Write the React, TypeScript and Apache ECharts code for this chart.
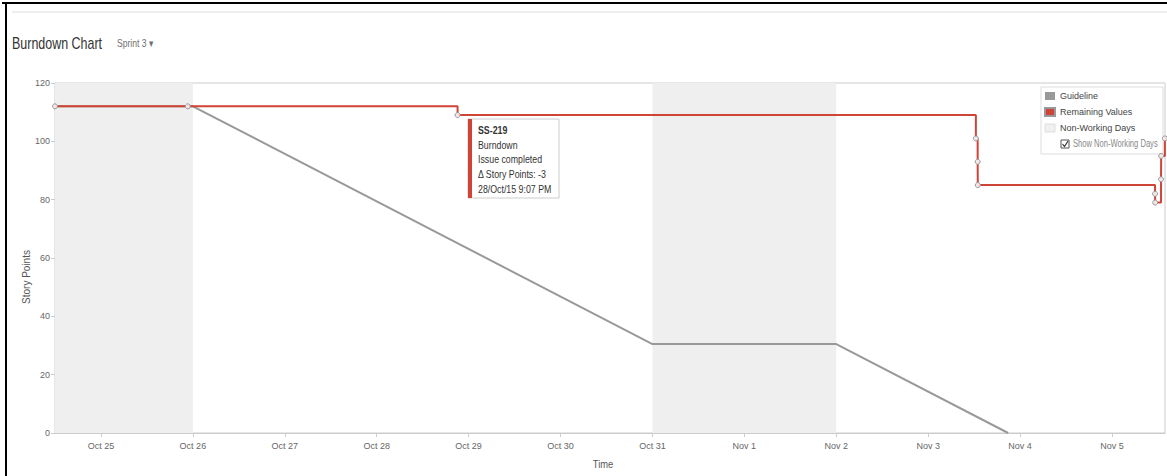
import React, { useEffect, useRef } from "react";
import * as echarts from "echarts";

const FONT = "'Liberation Sans', Arial, Helvetica, sans-serif";
const SQUEEZE = 0.78;

// ---- data ----
const axisStart = "2015-10-24 12:00";
const axisEnd = "2015-11-05 13:50";
const tickDates = [
  "2015-10-25", "2015-10-26", "2015-10-27", "2015-10-28", "2015-10-29", "2015-10-30",
  "2015-10-31", "2015-11-01", "2015-11-02", "2015-11-03", "2015-11-04", "2015-11-05",
];
const tickLabels = [
  "Oct 25", "Oct 26", "Oct 27", "Oct 28", "Oct 29", "Oct 30",
  "Oct 31", "Nov 1", "Nov 2", "Nov 3", "Nov 4", "Nov 5",
];
const guidelineTimes = ["2015-10-24 12:00", "2015-10-26 00:00", "2015-10-31 00:00", "2015-11-02 00:00", "2015-11-03 20:53"];
const guidelineValues = [112, 112, 30.5, 30.5, 0];
const remainingTimes = [
  "2015-10-24 12:00", "2015-10-25 22:40", "2015-10-28 21:07", "2015-11-03 12:27", "2015-11-03 12:55",
  "2015-11-03 12:57", "2015-11-05 11:14", "2015-11-05 11:16", "2015-11-05 12:48", "2015-11-05 12:50",
  "2015-11-05 13:48",
];
const remainingValues = [112, 112, 109, 101, 93, 85, 82, 79, 87, 95, 101];
const nonWorkingStarts = ["2015-10-24 12:00", "2015-10-31 00:00"];
const nonWorkingEnds = ["2015-10-26 00:00", "2015-11-02 00:00"];
const yTicks = { min: 0, max: 120, interval: 20 };
const tooltipLines = ["SS-219", "Burndown", "Issue completed", "\u0394 Story Points: -3", "28/Oct/15 9:07 PM"];

function parse(s: string): number {
  const [d, t] = s.split(" ");
  const [y, m, dd] = d.split("-").map(Number);
  const [h, mi] = (t || "00:00").split(":").map(Number);
  return new Date(y, m - 1, dd, h, mi).getTime();
}

export default function App() {
  const ref = useRef<HTMLDivElement>(null);
  useEffect(() => {
    if (!ref.current) return;
    const chart = echarts.init(ref.current, undefined, { renderer: "svg" });
    const tickValues = tickDates.map(parse);
    const labelFor = (v: number) => {
      const i = tickValues.findIndex((t) => Math.abs(t - v) < 60000);
      return i >= 0 ? tickLabels[i] : "";
    };

    const tooltipTexts = tooltipLines.map((line, i) => ({
      type: "text",
      z: 11,
      x: 478,
      y: 130 + i * 14.7,
      scaleX: 0.8,
      style: {
        text: line,
        fontFamily: FONT,
        fontSize: 11,
        fontWeight: i === 0 ? "bold" : "normal",
        fill: "#333",
        verticalAlign: "middle",
      },
    }));

    chart.setOption({
      animation: false,
      textStyle: { fontFamily: FONT },
      grid: {
        left: 55,
        right: 2,
        top: 83,
        bottom: 43,
        show: true,
        borderColor: "#ccc",
        borderWidth: 1,
      },
      legend: {
        orient: "vertical",
        left: 1044,
        top: 90,
        icon: "rect",
        itemWidth: 10,
        itemHeight: 8,
        itemGap: 4,
        padding: 0,
        selectedMode: false,
        z: 6,
        textStyle: { fontSize: 9, color: "#444", fontFamily: FONT, lineHeight: 12 },
        data: [
          { name: "Guideline", itemStyle: { color: "#999" } },
          { name: "Remaining Values", itemStyle: { color: "#d04437" } },
          { name: "Non-Working Days", itemStyle: { color: "#f0f0f0", borderColor: "#ddd", borderWidth: 1 } },
        ],
      },
      xAxis: {
        type: "value",
        min: parse(axisStart),
        max: parse(axisEnd),
        axisLine: { lineStyle: { color: "#ccc" } },
        axisTick: { show: true, customValues: tickValues, length: 4, lineStyle: { color: "#ccc" } },
        axisLabel: {
          customValues: tickValues,
          formatter: (v: number) => labelFor(v),
          color: "#666",
          fontSize: 9,
          fontFamily: FONT,
          margin: 8,
        },
        splitLine: { show: false },
      },
      yAxis: {
        type: "value",
        min: yTicks.min,
        max: yTicks.max,
        interval: yTicks.interval,
        axisLine: { show: true, lineStyle: { color: "#ccc" } },
        axisTick: { show: true, length: 4, lineStyle: { color: "#ccc" } },
        axisLabel: { color: "#666", fontSize: 9, fontFamily: FONT, margin: 5 },
        splitLine: { show: false },
      },
      series: [
        {
          name: "Non-Working Days",
          type: "line",
          data: [],
          itemStyle: { color: "#f0f0f0" },
          markArea: {
            silent: true,
            itemStyle: { color: "#efefef" },
            data: nonWorkingStarts.map((s, i) => [{ xAxis: parse(s) }, { xAxis: parse(nonWorkingEnds[i]) }]),
          },
        },
        {
          name: "Guideline",
          type: "line",
          data: guidelineTimes.map((t, i) => [parse(t), guidelineValues[i]]),
          symbol: "none",
          lineStyle: { color: "#999", width: 2 },
          itemStyle: { color: "#999" },
        },
        {
          name: "Remaining Values",
          type: "line",
          step: "end",
          data: remainingTimes.map((t, i) => [parse(t), remainingValues[i]]),
          symbol: "circle",
          symbolSize: 5,
          lineStyle: { color: "#d04437", width: 2 },
          itemStyle: { color: "#f3e6e6", borderColor: "#999", borderWidth: 1 },
        },
      ],
      graphic: [
        { type: "line", shape: { x1: 2, y1: 3, x2: 1167, y2: 3 }, style: { stroke: "#000", lineWidth: 2 } },
        { type: "line", shape: { x1: 6, y1: 3, x2: 6, y2: 476 }, style: { stroke: "#000", lineWidth: 2 } },
        { type: "line", shape: { x1: 12, y1: 12, x2: 1167, y2: 12 }, style: { stroke: "#eee", lineWidth: 2 } },
        {
          type: "text",
          x: 12,
          y: 43,
          scaleX: SQUEEZE,
          style: { text: "Burndown Chart", fontFamily: FONT, fontSize: 16, fill: "#333", verticalAlign: "middle" },
        },
        {
          type: "text",
          x: 117,
          y: 43,
          scaleX: SQUEEZE,
          style: { text: "Sprint 3 \u25BE", fontFamily: FONT, fontSize: 11, fill: "#707070", verticalAlign: "middle" },
        },
        {
          type: "text",
          x: 26,
          y: 277,
          rotation: Math.PI / 2,
          style: { text: "Story Points", fontFamily: FONT, fontSize: 10, fill: "#555", align: "center", verticalAlign: "middle" },
        },
        {
          type: "text",
          x: 603,
          y: 464,
          scaleX: 0.85,
          style: { text: "Time", fontFamily: FONT, fontSize: 11, fill: "#555", align: "center", verticalAlign: "middle" },
        },
        {
          type: "rect",
          z: 3,
          shape: { x: 1041, y: 87, width: 122, height: 67 },
          style: { fill: "#fff", stroke: "#ddd", lineWidth: 1 },
        },
        {
          type: "rect",
          z: 5,
          shape: { x: 1061, y: 140, width: 8, height: 8 },
          style: { fill: "#fff", stroke: "#555", lineWidth: 1 },
        },
        {
          type: "polyline",
          z: 5,
          shape: { points: [[1062.5, 144], [1064.5, 146.5], [1068, 141]] },
          style: { stroke: "#333", lineWidth: 1.2, fill: null },
        },
        {
          type: "text",
          z: 5,
          x: 1073,
          y: 144,
          scaleX: 0.76,
          style: { text: "Show Non-Working Days", fontFamily: FONT, fontSize: 10, fill: "#888", verticalAlign: "middle" },
        },
        {
          type: "rect",
          z: 10,
          shape: { x: 468, y: 119, width: 91, height: 79 },
          style: { fill: "#fff", stroke: "#ccc", lineWidth: 1 },
        },
        {
          type: "rect",
          z: 11,
          shape: { x: 468, y: 119, width: 4, height: 79 },
          style: { fill: "#d04437" },
        },
        ...tooltipTexts,
      ],
    });
    return () => chart.dispose();
  }, []);
  return <div ref={ref} style={{ position: "fixed", left: 0, top: 0, width: 1167, height: 476, background: "#fff" }} />;
}
